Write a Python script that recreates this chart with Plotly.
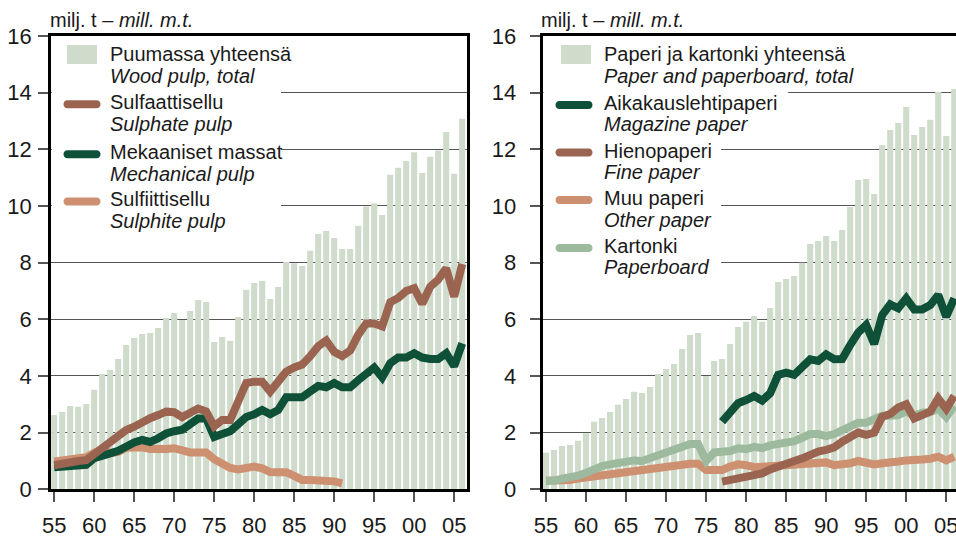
import plotly.graph_objects as go

# ---- data (million metric tonnes) ----
years = list(range(1955, 2007))
years_from_77 = list(range(1977, 2007))

wood_pulp_total = [2.62, 2.73, 2.94, 2.91, 3.01, 3.51, 4.07, 4.21, 4.60, 5.09,
                   5.34, 5.48, 5.52, 5.69, 6.05, 6.22, 5.98, 6.29, 6.68, 6.61,
                   5.20, 5.38, 5.24, 6.08, 7.04, 7.28, 7.35, 6.72, 7.14, 8.02,
                   7.98, 7.88, 8.42, 9.01, 9.12, 8.87, 8.48, 8.48, 9.30, 9.98,
                   10.10, 9.68, 11.10, 11.35, 11.59, 11.90, 11.16, 11.74, 11.96, 12.61,
                   11.14, 13.08]
sulphate_pulp = [0.85, 0.92, 0.97, 1.00, 1.03, 1.25, 1.42, 1.68, 1.92, 2.09,
                 2.21, 2.39, 2.51, 2.62, 2.74, 2.72, 2.55, 2.70, 2.85, 2.75,
                 2.22, 2.45, 2.45, 3.10, 3.75, 3.80, 3.80, 3.45, 3.80, 4.15,
                 4.30, 4.40, 4.70, 5.05, 5.25, 4.85, 4.70, 4.90, 5.45, 5.85,
                 5.85, 5.75, 6.60, 6.75, 7.00, 7.10, 6.55, 7.15, 7.40, 7.80,
                 6.80, 7.95]
mechanical_pulp = [0.78, 0.80, 0.84, 0.85, 0.86, 1.10, 1.22, 1.27, 1.36, 1.53,
                   1.65, 1.74, 1.67, 1.80, 1.97, 2.05, 2.10, 2.30, 2.50, 2.50,
                   1.85, 1.95, 2.05, 2.30, 2.55, 2.65, 2.80, 2.65, 2.80, 3.25,
                   3.25, 3.25, 3.45, 3.65, 3.60, 3.75, 3.60, 3.60, 3.85, 4.10,
                   4.30, 3.95, 4.45, 4.65, 4.65, 4.80, 4.65, 4.60, 4.60, 4.80,
                   4.35, 5.15]
sulphite_pulp = [0.98, 1.00, 1.05, 1.10, 1.13, 1.29, 1.42, 1.28, 1.32, 1.47,
                 1.50, 1.48, 1.42, 1.39, 1.42, 1.45, 1.35, 1.30, 1.30, 1.30,
                 1.06, 0.90, 0.75, 0.70, 0.74, 0.80, 0.74, 0.61, 0.60, 0.60,
                 0.47, 0.33, 0.33, 0.33, 0.32, 0.28, 0.21]

paper_total = [1.29, 1.39, 1.53, 1.56, 1.71, 1.98, 2.38, 2.52, 2.73, 2.98,
               3.19, 3.44, 3.40, 3.61, 4.07, 4.25, 4.42, 4.95, 5.45, 5.52,
               4.00, 4.53, 4.60, 5.13, 5.73, 5.91, 6.12, 5.91, 6.40, 7.32,
               7.42, 7.53, 8.00, 8.66, 8.76, 8.94, 8.76, 9.15, 9.96, 10.92,
               10.95, 10.42, 12.15, 12.68, 12.93, 13.49, 12.51, 12.79, 13.04, 14.02,
               12.47, 14.13]
magazine_paper = [2.39, 2.74, 3.04, 3.15, 3.29, 3.13, 3.39, 4.04, 4.12, 4.04,
                  4.31, 4.59, 4.53, 4.76, 4.59, 4.60, 5.09, 5.53, 5.80, 5.13,
                  6.15, 6.53, 6.39, 6.74, 6.35, 6.35, 6.50, 6.86, 6.09, 6.74]
fine_paper = [0.27, 0.33, 0.39, 0.47, 0.53, 0.56, 0.70, 0.82, 0.92, 1.00,
              1.09, 1.25, 1.33, 1.39, 1.48, 1.68, 1.86, 2.00, 1.92, 2.00,
              2.56, 2.66, 2.89, 3.00, 2.50, 2.60, 2.74, 3.21, 2.84, 3.30]
other_paper = [0.30, 0.30, 0.32, 0.33, 0.38, 0.42, 0.45, 0.48, 0.55, 0.57,
               0.58, 0.62, 0.65, 0.68, 0.75, 0.78, 0.80, 0.86, 0.90, 0.90,
               0.68, 0.68, 0.68, 0.80, 0.88, 0.85, 0.78, 0.80, 0.82, 0.85,
               0.85, 0.85, 0.88, 0.93, 0.95, 0.95, 0.85, 0.85, 0.92, 1.00,
               0.92, 0.88, 0.92, 0.92, 0.98, 1.02, 1.00, 1.05, 1.08, 1.15,
               1.02, 1.15]
paperboard = [0.30, 0.30, 0.38, 0.42, 0.48, 0.58, 0.72, 0.82, 0.88, 0.95,
              0.95, 1.02, 1.00, 1.10, 1.22, 1.25, 1.35, 1.50, 1.60, 1.60,
              1.00, 1.30, 1.30, 1.35, 1.45, 1.42, 1.50, 1.45, 1.55, 1.60,
              1.62, 1.70, 1.82, 1.95, 1.95, 1.88, 1.95, 2.10, 2.20, 2.35,
              2.35, 2.45, 2.60, 2.60, 2.62, 2.75, 2.60, 2.70, 2.72, 2.85,
              2.55, 2.95]

tick_years = [1955, 1960, 1965, 1970, 1975, 1980, 1985, 1990, 1995, 2000, 2005]
tick_labels = ["55", "60", "65", "70", "75", "80", "85", "90", "95", "00", "05"]
y_ticks = [0, 2, 4, 6, 8, 10, 12, 14, 16]

# ---- styling ----
W, H = 956, 537
FONT = "Liberation Sans, Arial, sans-serif"
BAR = "#cfdccb"
BROWN = "#9a6450"
DKGREEN = "#0e5138"
SALMON = "#cd9172"
LTGREEN = "#9dba9f"
LW = 8


def px(x):
    return x / W


def py(y):
    return (H - y) / H


fig = go.Figure()

# left panel: wood pulp
fig.add_bar(x=years, y=wood_pulp_total, width=0.76, marker=dict(color=BAR, line_width=0),
            xaxis="x", yaxis="y")
fig.add_scatter(x=years[:len(sulphite_pulp)], y=sulphite_pulp, mode="lines",
                line=dict(color=SALMON, width=LW), xaxis="x", yaxis="y")
fig.add_scatter(x=years, y=mechanical_pulp, mode="lines",
                line=dict(color=DKGREEN, width=LW), xaxis="x", yaxis="y")
fig.add_scatter(x=years, y=sulphate_pulp, mode="lines",
                line=dict(color=BROWN, width=LW), xaxis="x", yaxis="y")

# right panel: paper and paperboard
fig.add_bar(x=years, y=paper_total, width=0.76, marker=dict(color=BAR, line_width=0),
            xaxis="x2", yaxis="y2")
fig.add_scatter(x=years, y=other_paper, mode="lines",
                line=dict(color=SALMON, width=LW), xaxis="x2", yaxis="y2")
fig.add_scatter(x=years, y=paperboard, mode="lines",
                line=dict(color=LTGREEN, width=LW), xaxis="x2", yaxis="y2")
fig.add_scatter(x=years_from_77, y=fine_paper, mode="lines",
                line=dict(color=BROWN, width=LW), xaxis="x2", yaxis="y2")
fig.add_scatter(x=years_from_77, y=magazine_paper, mode="lines",
                line=dict(color=DKGREEN, width=LW), xaxis="x2", yaxis="y2")

xaxis_common = dict(
    tickmode="array", tickvals=tick_years, ticktext=tick_labels,
    ticks="outside", ticklen=10, tickwidth=1.5, tickcolor="#555",
    showline=True, linecolor="black", linewidth=2.5, mirror=True,
    showgrid=False, zeroline=False, automargin=False,
    ticklabeloverflow="allow",
    tickfont=dict(family=FONT, size=22, color="#1a1a1a"),
    ticklabelstandoff=5,
)
yaxis_common = dict(
    range=[0, 16], tickmode="array", tickvals=y_ticks,
    ticks="outside", ticklen=10, tickwidth=1.5, tickcolor="#555",
    showline=True, linecolor="black", linewidth=2.5,
    showgrid=True, gridcolor="#555", gridwidth=1.2, zeroline=False,
    automargin=False, ticklabeloverflow="allow",
    tickfont=dict(family=FONT, size=22, color="#1a1a1a"),
    domain=[py(489.3), py(36)],
)

fig.update_layout(
    width=W, height=H, margin=dict(l=0, r=0, t=0, b=0, pad=0, autoexpand=False),
    paper_bgcolor="white", plot_bgcolor="white", showlegend=False,
    font=dict(family=FONT, color="#1a1a1a"),
    xaxis=dict(xaxis_common, domain=[px(51), px(467)], range=[1954.6, 2006.6], anchor="y"),
    yaxis=dict(yaxis_common, anchor="x", mirror=True, ticklabelstandoff=2),
    xaxis2=dict(xaxis_common, domain=[px(542.5), 1.0], range=[1954.56, 2006.22], anchor="y2"),
    yaxis2=dict(yaxis_common, anchor="x2", mirror=False, ticklabelstandoff=9),
)

# white panels behind the legend text, hiding the grid lines there
shapes = [
    dict(type="rect", xref="x", yref="y", x0=1954.7, x1=1983.35, y0=8.6, y1=15.9,
         fillcolor="white", line_width=0, layer="between"),
    dict(type="rect", xref="x2", yref="y2", x0=1954.7, x1=1985.25, y0=13.3, y1=15.9,
         fillcolor="white", line_width=0, layer="between"),
    dict(type="rect", xref="x2", yref="y2", x0=1954.7, x1=1976.87, y0=7.5, y1=13.3,
         fillcolor="white", line_width=0, layer="between"),
]


def pill(cx, cy, color, length=37, thick=8):
    a = length / 2 - thick / 2
    r = thick / 2
    k = r * 4 / 3
    path = (f"M {-a},{-r} L {a},{-r} C {a + k},{-r} {a + k},{r} {a},{r} "
            f"L {-a},{r} C {-a - k},{r} {-a - k},{-r} {-a},{-r} Z")
    return dict(type="path", xref="paper", yref="paper", xsizemode="pixel",
                ysizemode="pixel", xanchor=px(cx), yanchor=py(cy), path=path,
                fillcolor=color, line_width=0, layer="above")


annotations = []


def label(x, y, text, size=20):
    annotations.append(dict(xref="paper", yref="paper", x=px(x), y=py(y),
                            xanchor="left", yanchor="middle", showarrow=False,
                            text=text, font=dict(family=FONT, size=size, color="#1a1a1a")))


# unit titles
label(48, 20, "milj. t – <i>mill. m.t.</i>", size=20)
label(539, 20, "milj. t – <i>mill. m.t.</i>", size=20)

# legend: wood pulp panel
shapes.append(dict(type="rect", xref="paper", yref="paper", x0=px(67), x1=px(97),
                   y0=py(64), y1=py(45), fillcolor=BAR, line_width=0, layer="above"))
label(108, 54, "Puumassa yhteensä")
label(108, 75.5, "<i>Wood pulp, total</i>")
left_items = [(104.3, BROWN, "Sulfaattisellu", "Sulphate pulp"),
              (154.3, DKGREEN, "Mekaaniset massat", "Mechanical pulp"),
              (201.5, SALMON, "Sulfiittisellu", "Sulphite pulp")]
for yy, col, fi, en in left_items:
    shapes.append(pill(82, yy, col))
    label(108, yy - 2, fi)
    label(108, yy + 19.5, f"<i>{en}</i>")

# legend: paper panel
shapes.append(dict(type="rect", xref="paper", yref="paper", x0=px(561), x1=px(591),
                   y0=py(64), y1=py(45), fillcolor=BAR, line_width=0, layer="above"))
label(602, 54.5, "Paperi ja kartonki yhteensä")
label(602, 76, "<i>Paper and paperboard, total</i>")
right_items = [(105, DKGREEN, "Aikakauslehtipaperi", "Magazine paper"),
               (152.5, BROWN, "Hienopaperi", "Fine paper"),
               (200, SALMON, "Muu paperi", "Other paper"),
               (248, LTGREEN, "Kartonki", "Paperboard")]
for yy, col, fi, en in right_items:
    shapes.append(pill(574, yy, col))
    label(602, yy - 2, fi)
    label(602, yy + 19.5, f"<i>{en}</i>")

fig.update_layout(shapes=shapes, annotations=annotations)

fig.write_html("out.html")
